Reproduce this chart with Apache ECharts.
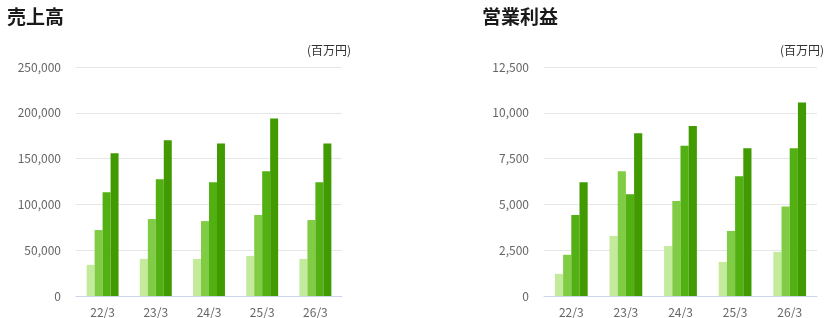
<!DOCTYPE html>
<html><head><meta charset="utf-8">
<script src="https://cdn.jsdelivr.net/npm/echarts@6/dist/echarts.min.js"></script>
<style>html,body{margin:0;padding:0;background:#fff}#c{width:829px;height:318px}</style>
</head><body><div id="c"></div>
<script>
const categories = ['22/3', '23/3', '24/3', '25/3', '26/3'];
const seriesNames = ['第1四半期', '第2四半期', '第3四半期', '第4四半期'];
// 売上高 (百万円)
const salesQ1 = [34000, 40500, 40500, 43800, 40500];
const salesQ2 = [72000, 84000, 81800, 88400, 82900];
const salesQ3 = [113400, 127500, 124200, 136200, 124200];
const salesQ4 = [155800, 169900, 166600, 193800, 166600];
// 営業利益 (百万円)
const profitQ1 = [1210, 3280, 2730, 1860, 2410];
const profitQ2 = [2250, 6810, 5180, 3550, 4890];
const profitQ3 = [4420, 5560, 8200, 6540, 8060];
const profitQ4 = [6210, 8880, 9280, 8060, 10560];
const salesTicks = { min: 0, max: 250000, interval: 50000 };
const profitTicks = { min: 0, max: 12500, interval: 2500 };

const colors = ['#c3eb9b', '#80cc44', '#52b012', '#409a00'];
const font = '"Noto Sans CJK JP", "Noto Sans", sans-serif';

function fmt(v){ return v.toLocaleString('en-US'); }

const chart = echarts.init(document.getElementById('c'), null, {renderer:'canvas'});
const salesData = [salesQ1, salesQ2, salesQ3, salesQ4];
const profitData = [profitQ1, profitQ2, profitQ3, profitQ4];
const series = [];
[salesData, profitData].forEach((set, gi) => {
  set.forEach((d, i) => {
    series.push({
      name: seriesNames[i], type: 'bar', xAxisIndex: gi, yAxisIndex: gi,
      data: d, barGap: 0, barCategoryGap: '40%',
      itemStyle: { color: colors[i] }, silent: true
    });
  });
});

function xAxis(gi){
  return {
    type: 'category', gridIndex: gi, data: categories,
    axisLine: { lineStyle: { color: '#ccd6eb', width: 1 } },
    axisTick: { show: false },
    axisLabel: { color: '#666', fontSize: 12, fontFamily: font, margin: 10 }
  };
}
function yAxis(gi, t){
  return {
    type: 'value', gridIndex: gi, min: t.min, max: t.max, interval: t.interval,
    axisLine: { show: false }, axisTick: { show: false },
    splitLine: { lineStyle: { color: '#e6e6e6', width: 1 } },
    axisLabel: { color: '#666', fontSize: 12, fontFamily: font, margin: 15, formatter: fmt }
  };
}

chart.setOption({
  animation: false,
  title: [
    { text: '売上高', left: 2, top: 2, textStyle: { fontSize: 19, fontWeight: 'bold', color: '#1a1a1a', fontFamily: font } },
    { text: '営業利益', left: 477, top: 2, textStyle: { fontSize: 19, fontWeight: 'bold', color: '#1a1a1a', fontFamily: font } }
  ],
  graphic: [
    { type: 'text', right: 829 - 351, top: 44, style: { text: '(百万円)', fill: '#333', font: '12px ' + font } },
    { type: 'text', right: 829 - 824, top: 44, style: { text: '(百万円)', fill: '#333', font: '12px ' + font } }
  ],
  grid: [
    { left: 76, right: 829 - 342, top: 67, bottom: 21, containLabel: false },
    { left: 544, right: 829 - 817, top: 67, bottom: 21, containLabel: false }
  ],
  xAxis: [xAxis(0), xAxis(1)],
  yAxis: [yAxis(0, salesTicks), yAxis(1, profitTicks)],
  series: series
});
</script></body></html>
